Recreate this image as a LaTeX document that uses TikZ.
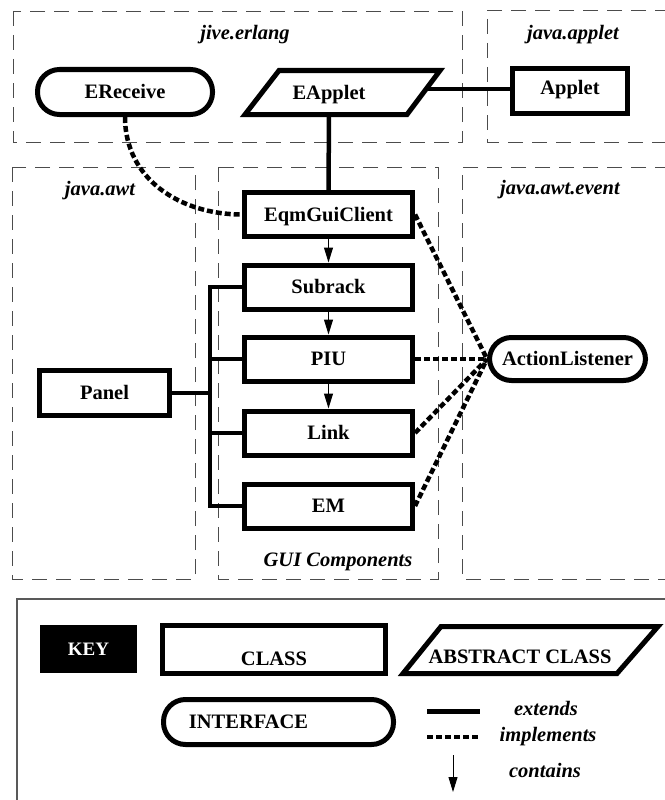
\documentclass[tikz,border=0pt]{standalone}
\usepackage{fontspec}
\setmainfont{Liberation Serif}
\usetikzlibrary{arrows.meta,calc}
\newcommand\mybf{\fontsize{20.5}{24}\selectfont\bfseries}
\newcommand\mybi{\fontsize{20.5}{24}\selectfont\bfseries\itshape}
\begin{document}
\begin{tikzpicture}[x=1pt,y=-1pt,
  tbox/.style={draw, line width=5pt, inner sep=0pt, font=\mybf,
    minimum height=44pt, text height=13.5pt, text depth=0pt},
  pill/.style={tbox, rounded corners=22pt},
  plain/.style={inner sep=0pt, font=\mybf, text height=13.5pt, text depth=0pt},
  pkg/.style={draw=black!70, line width=0.9pt, dash pattern=on 15pt off 9pt},
  plabel/.style={font=\mybi, inner sep=0pt},
  ext/.style={line width=4.5pt},
  impl/.style={line width=4.5pt, dash pattern=on 6pt off 3pt},
  cont/.style={line width=1pt, -{Triangle[length=15pt,width=9pt]}},
]
\useasboundingbox (0,0) rectangle (664,800);

% package boxes
\draw[pkg] (13,11) rectangle (462,142);
\draw[pkg] (670,10) -- (487,10) -- (487,142) -- (670,142);
\draw[pkg] (12,167) rectangle (195,579);
\draw[pkg] (218,167) rectangle (438,579);
\draw[pkg] (670,167) -- (462,167) -- (462,579) -- (670,579);

\node[plabel] (pjive) at (245,35) {jive.erlang};
\node[plabel] (papplet) at (573,35) {java.applet};
\node[plabel] (pawt) at (100,191) {java.awt};
\node[plabel] (pevent) at (560,190) {java.awt.event};
\node[plabel] (pgui) at (338,562) {GUI Components};

% classes
\node[pill, minimum width=175pt, minimum height=45pt] (erec) at (125,92) {EReceive};
\node[plain] (eap) at (329,92.5) {EApplet};
\draw[line width=5pt, line join=miter] ($(eap)+(-50,-22)$) -- ($(eap)+(111,-22)$) -- ($(eap)+(78,22)$) -- ($(eap)+(-84,22)$) -- cycle;
\coordinate (eapR) at ($(eap)+(97,-3.5)$);
\coordinate (eapB) at ($(eap)+(0,22)$);
\node[tbox, minimum width=115pt, minimum height=45pt] (applet) at (570,91) {\raisebox{3pt}{Applet}};

\node[tbox, minimum width=168pt] (eqm) at (328.5,214.5) {EqmGuiClient};
\node[tbox, minimum width=168pt] (sub) at (328.5,287) {Subrack};
\node[tbox, minimum width=168pt] (piu) at (328.5,359) {PIU};
\node[tbox, minimum width=168pt] (link) at (328.5,433) {Link};
\node[tbox, minimum width=168pt] (em) at (328.5,506) {EM};
\node[tbox, minimum width=130pt, minimum height=45pt] (panel) at (104.5,393) {Panel};
\node[pill, minimum width=156pt, minimum height=43pt] (al) at (567.5,359) {ActionListener};

\coordinate (busx) at (210,0);

% extends
\draw[ext] (eapR) -- (eapR -| applet.west);
\draw[ext] (eapB) -- (eqm.north);
\draw[ext] (sub.west) -- (sub.west -| busx) -- (em.west -| busx) -- (em.west);
\draw[ext] (piu.west) -- (piu.west -| busx);
\draw[ext] (link.west) -- (link.west -| busx);
\draw[ext] (panel.east) -- (panel.east -| busx);

% contains
\draw[cont] (eqm.south) -- (sub.north);
\draw[cont] (sub.south) -- (piu.north);
\draw[cont] (piu.south) -- (link.north);

% implements
\draw[impl] (erec.south) .. controls +(0,62) and +(-62,0) .. (eqm.west);
\draw[impl] (eqm.east) -- (al.west);
\draw[impl] (piu.east) -- (al.west);
\draw[impl] (link.east) -- (al.west);
\draw[impl] (em.east) -- (al.west);

% key
\draw[draw=black!65, line width=1.2pt] (670,599) -- (17,599) -- (17,810);
\node[fill=black, text=white, minimum width=97pt, minimum height=48pt, inner sep=0pt,
  font=\fontsize{19}{22}\selectfont\bfseries, text height=12.5pt, text depth=0pt] (key) at (88.5,649) {KEY};
\node[tbox, minimum width=223pt, minimum height=48pt] (kclass) at (274,649.5) {\raisebox{-9pt}{CLASS}};
\node[plain] (kabs) at (520,650) {\raisebox{-7pt}{ABSTRACT CLASS}};
\draw[line width=5pt, line join=miter] ($(kabs)+(-79,-23.5)$) -- ($(kabs)+(138,-23.5)$) -- ($(kabs)+(97,23.5)$) -- ($(kabs)+(-117,23.5)$) -- cycle;
\node[pill, minimum width=230pt, minimum height=45pt] (kint) at (278.5,722) {\hspace*{-60pt}INTERFACE};

\coordinate (le1) at (427,711); \coordinate (le2) at (480,711);
\draw[line width=5pt] (le1) -- (le2);
\node[plabel] (lext) at (546,708) {extends};
\coordinate (li1) at (427,737); \coordinate (li2) at (480,737);
\draw[impl] (li1) -- (li2);
\node[plabel] (limp) at (548,737) {implements};
\coordinate (lc1) at (453,755); \coordinate (lc2) at (453,792);
\draw[cont] (lc1) -- (lc2);
\node[plabel] (lcon) at (545,770) {contains};
\end{tikzpicture}
\end{document}
